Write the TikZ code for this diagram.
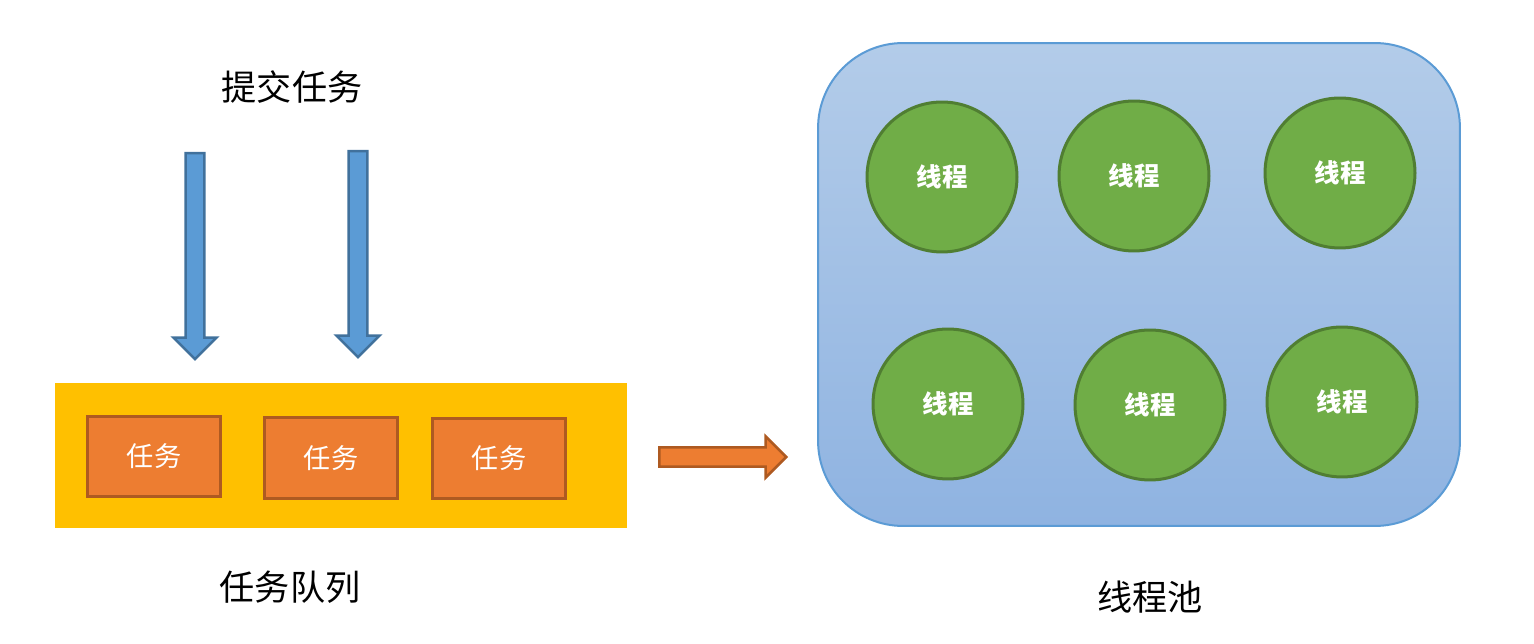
\documentclass[tikz,border=0pt]{standalone}
\usepackage{fontspec}
\newfontfamily\cjk{Noto Sans CJK SC}
\usepackage{xcolor}
\definecolor{queuebg}{HTML}{FFC000}
\definecolor{taskfill}{HTML}{ED7D31}
\definecolor{taskline}{HTML}{AE5A21}
\definecolor{pooltop}{HTML}{B3CCE9}
\definecolor{poolbot}{HTML}{8FB3E1}
\definecolor{poolline}{HTML}{5B9BD5}
\definecolor{threadfill}{HTML}{70AD47}
\definecolor{threadline}{HTML}{507E32}
\definecolor{pushfill}{HTML}{5B9BD5}
\definecolor{pushline}{HTML}{41719C}
\usetikzlibrary{positioning,shapes.arrows}

\begin{document}
\begin{tikzpicture}[x=0.02cm, y=-0.02cm,
    caption/.style={font=\cjk\fontsize{20}{24}\selectfont},
    task/.style={draw=taskline, fill=taskfill, line width=0.06cm, minimum width=2.68cm,
      minimum height=1.62cm, text=white, font=\cjk\fontsize{15.5}{18}\selectfont},
    thread/.style={circle, draw=threadline, fill=threadfill, line width=0.06cm,
      minimum size=3.0cm, text=white, font=\cjk\bfseries\fontsize{14.5}{17}\selectfont},
    push/.style={single arrow, draw=pushline, fill=pushfill, line width=0.05cm,
      minimum width=0.86cm, minimum height=4.12cm, single arrow head extend=0.23cm,
      inner xsep=0.15cm, inner ysep=0pt, shape border rotate=270, anchor=tail}]
  \useasboundingbox (0,0) rectangle (1534,644);
  % left: submitting tasks into the queue
  \node[caption] (submit) at (292,87) {提交任务};
  \node[push] (push1) at (195,152) {};
  \node[push] (push2) at (358,150) {};
  \node[fill=queuebg, minimum width=11.44cm, minimum height=2.9cm, inner sep=0pt] (queue) at (341,455.5) {};
  \node[task] (task1) at (154,456.5) {任务};
  \node[task] (task2) at (331,458) {任务};
  \node[task] (task3) at (499,458.5) {任务};
  \node[caption] (queuelabel) at (290,587) {任务队列};
  % hand over to the pool
  \node[single arrow, draw=taskline, fill=taskfill, line width=0.05cm, minimum width=0.82cm,
    minimum height=2.54cm, single arrow head extend=0.21cm, inner xsep=0pt, inner ysep=0.16cm,
    anchor=tail] (handover) at (658,457) {};
  % right: the thread pool
  \node[draw=poolline, line width=0.04cm, rounded corners=1.7cm, top color=pooltop,
    bottom color=poolbot, minimum width=12.84cm, minimum height=9.66cm] (pool) at (1139,284.5) {};
  \node[thread] (t1) at (942,177) {线程};
  \node[thread] (t2) at (1134,176) {线程};
  \node[thread] (t3) at (1340,173) {线程};
  \node[thread] (t4) at (948,404) {线程};
  \node[thread] (t5) at (1150,405) {线程};
  \node[thread] (t6) at (1342,402) {线程};
  \node[caption] (poollabel) at (1150,597) {线程池};
\end{tikzpicture}
\end{document}
